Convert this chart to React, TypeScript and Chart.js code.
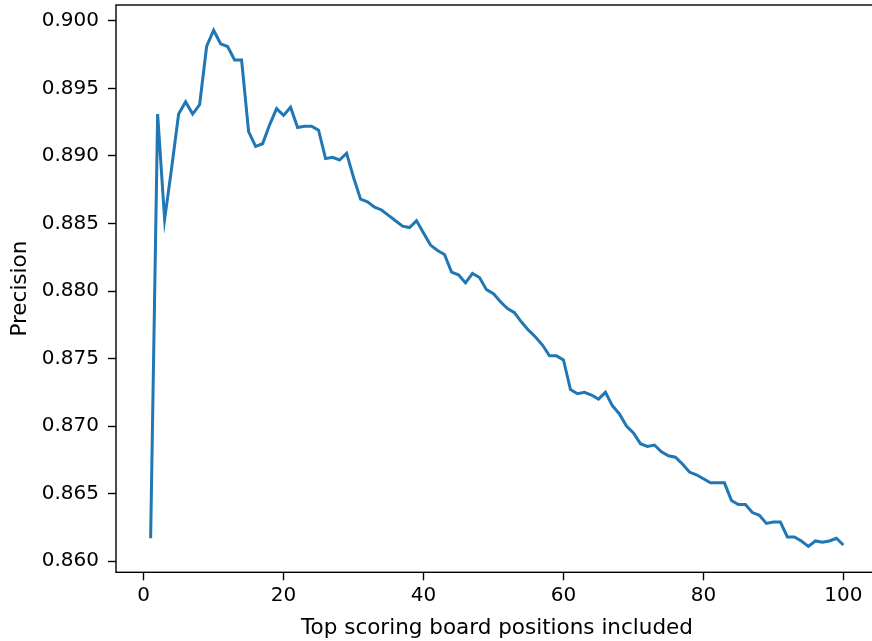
import React, { useEffect, useRef } from "react";
import { Chart, registerables } from "chart.js";

Chart.register(...registerables);

const positions: number[] = Array.from({ length: 100 }, (_, i) => i + 1);

const precision: number[] = [
  0.8617, 0.8931, 0.8853, 0.8891, 0.8931, 0.8940, 0.8931, 0.8938, 0.8981, 0.8993,
  0.8983, 0.8981, 0.8971, 0.8971, 0.8918, 0.8907, 0.8909, 0.8923, 0.8935, 0.8930,
  0.8936, 0.8921, 0.8922, 0.8922, 0.8919, 0.8898, 0.8899, 0.8897, 0.8902, 0.8884,
  0.8868, 0.8866, 0.8862, 0.8860, 0.8856, 0.8852, 0.8848, 0.8847, 0.8852, 0.8843,
  0.8834, 0.8830, 0.8827, 0.8814, 0.8812, 0.8806, 0.8813, 0.8810, 0.8801, 0.8798,
  0.8792, 0.8787, 0.8784, 0.8777, 0.8771, 0.8766, 0.8760, 0.8752, 0.8752, 0.8749,
  0.8727, 0.8724, 0.8725, 0.8723, 0.8720, 0.8725, 0.8715, 0.8709, 0.8700, 0.8695,
  0.8687, 0.8685, 0.8686, 0.8681, 0.8678, 0.8677, 0.8672, 0.8666, 0.8664, 0.8661,
  0.8658, 0.8658, 0.8658, 0.8645, 0.8642, 0.8642, 0.8636, 0.8634, 0.8628, 0.8629,
  0.8629, 0.8618, 0.8618, 0.8615, 0.8611, 0.8615, 0.8614, 0.8615, 0.8617, 0.8612,
];

const xTitle = "Top scoring board positions included";
const yTitle = "Precision";

const FONT = "'DejaVu Sans', sans-serif";

const framePlugin = {
  id: "frame",
  afterDraw(chart: any) {
    const { ctx, chartArea } = chart;
    ctx.save();
    ctx.strokeStyle = "#000";
    ctx.lineWidth = 1.4;
    ctx.strokeRect(chartArea.left, chartArea.top, chartArea.right - chartArea.left, chartArea.bottom - chartArea.top);
    ctx.restore();
  },
};

export default function App() {
  const ref = useRef<HTMLCanvasElement | null>(null);

  useEffect(() => {
    if (!ref.current) return;
    const chart = new Chart(ref.current, {
      type: "line",
      data: {
        datasets: [
          {
            data: positions.map((x, i) => ({ x, y: precision[i] })),
            borderColor: "#1f77b4",
            borderWidth: 3,
            pointRadius: 0,
            tension: 0,
            fill: false,
          },
        ],
      },
      options: {
        animation: false,
        responsive: false,
        devicePixelRatio: 1,
        layout: { padding: { top: 5, right: 2, left: 0, bottom: 0 } },
        plugins: { legend: { display: false }, tooltip: { enabled: false } },
        scales: {
          x: {
            type: "linear",
            min: -3.95,
            max: 104.95,
            afterFit: (s: any) => {
              s.height = 68.7;
              s.paddingLeft = 0;
              s.paddingRight = 0;
            },
            ticks: {
              stepSize: 20,
              includeBounds: false,
              autoSkip: false,
              maxRotation: 0,
              padding: 3,
              color: "#000",
              font: { family: FONT, size: 20 },
              callback: (v: any) => String(Math.round(Number(v))),
            },
            grid: {
              display: true,
              drawOnChartArea: false,
              drawTicks: true,
              tickLength: 8,
              tickWidth: 1.4,
              tickColor: "#000",
            },
            border: { display: false },
            title: {
              display: true,
              text: xTitle,
              color: "#000",
              font: { family: FONT, size: 21.5 },
              padding: { top: 0, bottom: 0 },
            },
          },
          y: {
            type: "linear",
            min: 0.85918,
            max: 0.90117,
            afterFit: (s: any) => {
              s.width = 116;
              s.paddingTop = 0;
              s.paddingBottom = 0;
            },
            ticks: {
              stepSize: 0.005,
              includeBounds: false,
              autoSkip: false,
              padding: 9,
              color: "#000",
              font: { family: FONT, size: 20 },
              callback: (v: any) => Number(v).toFixed(3),
            },
            grid: {
              display: true,
              drawOnChartArea: false,
              drawTicks: true,
              tickLength: 8,
              tickWidth: 1.4,
              tickColor: "#000",
            },
            border: { display: false },
            title: {
              display: true,
              text: yTitle,
              color: "#000",
              font: { family: FONT, size: 21.5 },
              padding: { top: 7.4, bottom: 0 },
            },
          },
        },
      },
      plugins: [framePlugin],
    });
    return () => chart.destroy();
  }, []);

  return (
    <div style={{ position: "fixed", left: 0, top: 0, width: 880, height: 641, background: "#fff" }}>
      <canvas ref={ref} width={880} height={641} />
    </div>
  );
}
